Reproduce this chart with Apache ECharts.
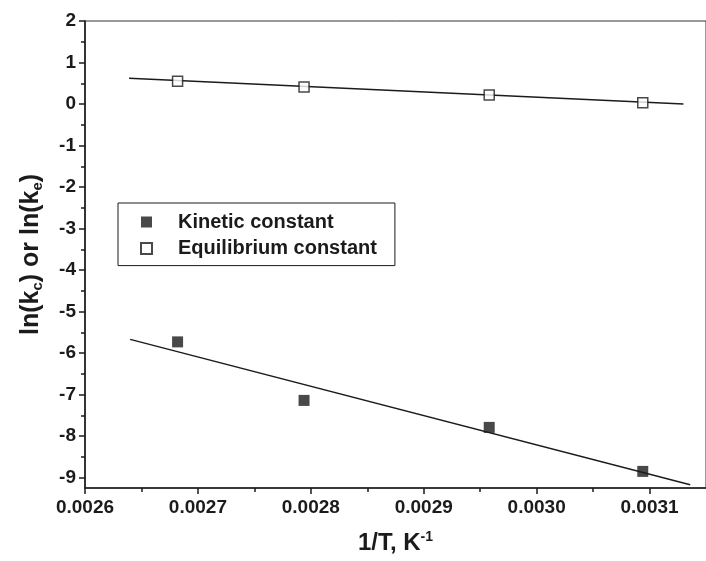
<!DOCTYPE html>
<html>
<head>
<meta charset="utf-8">
<title>ln(k) vs 1/T</title>
<script src="https://cdn.jsdelivr.net/npm/echarts@6/dist/echarts.min.js"></script>
<style>
  html, body { margin: 0; padding: 0; background: #ffffff; }
  #chart { width: 706px; height: 561px; }
</style>
</head>
<body>
<div id="chart"></div>
<script>
// Reciprocal temperature of each run, 1/T in K^-1
const invT = [0.002682, 0.002794, 0.002958, 0.003094];
// ln of the kinetic constant at each temperature
const lnKinetic = [-5.73, -7.14, -7.79, -8.85];
// ln of the equilibrium constant at each temperature
const lnEquilibrium = [0.55, 0.41, 0.22, 0.03];

// End points of the straight-line (Arrhenius / van 't Hoff) fits
const kineticFitX = [0.00264, 0.003136];
const kineticFitY = [-5.67, -9.17];
const equilibriumFitX = [0.002639, 0.00313];
const equilibriumFitY = [0.62, 0.0];

// Axis ticks
const xTicks = [0.0026, 0.0027, 0.0028, 0.0029, 0.0030, 0.0031];
const xMinorTicks = [0.00265, 0.00275, 0.00285, 0.00295, 0.00305];
const yTicks = [2, 1, 0, -1, -2, -3, -4, -5, -6, -7, -8, -9];
const yMinorTicks = [1.5, 0.5, -0.5, -1.5, -2.5, -3.5, -4.5, -5.5, -6.5, -7.5, -8.5];

const seriesNames = ['Kinetic constant', 'Equilibrium constant'];

const ink = '#1b1b1b';
const fontFamily = '"Liberation Sans", Arial, sans-serif';
const X_MIN = 0.0026, X_MAX = 0.00315, Y_MIN = -9.25, Y_MAX = 2;

const pairs = (xs, ys) => xs.map((x, i) => [x, ys[i]]);
const squareIcon = 'path://M0,0 L10,0 L10,10 L0,10 Z';

const chart = echarts.init(document.getElementById('chart'), null, { renderer: 'canvas' });

chart.setOption({
  backgroundColor: '#ffffff',
  animation: false,
  grid: {
    left: 85, top: 21, right: -7, bottom: 73,
    show: true, borderColor: '#333', borderWidth: 1, backgroundColor: 'transparent'
  },
  legend: {
    left: 118, top: 203,
    orient: 'vertical',
    data: seriesNames.map(n => ({ name: n, icon: squareIcon })),
    itemWidth: 53, itemHeight: 11, itemGap: 6.6,
    symbolKeepAspect: true,
    padding: [9, 18, 7, 22],
    borderColor: ink, borderWidth: 1,
    selectedMode: false,
    textStyle: { fontFamily, fontSize: 20, fontWeight: 'bold', color: ink, lineHeight: 20 }
  },
  xAxis: [
    {
      type: 'value', min: X_MIN, max: X_MAX,
      name: '1/T, K{sup|-1}',
      nameLocation: 'middle', nameGap: 42,
      nameTextStyle: {
        fontFamily, fontSize: 24, fontWeight: 'bold', color: ink,
        rich: { sup: { fontFamily, fontSize: 14, fontWeight: 'bold', color: ink, padding: [0, 0, 13, 0] } }
      },
      axisLine: { show: true, onZero: false, lineStyle: { color: ink, width: 1.6 } },
      axisTick: { show: true, customValues: xTicks, length: 6, lineStyle: { color: ink, width: 1.5 } },
      axisLabel: {
        show: true, customValues: xTicks, margin: 10,
        formatter: v => Number(v).toFixed(4),
        fontFamily, fontSize: 19, fontWeight: 'bold', color: ink
      },
      splitLine: { show: false }
    },
    {
      type: 'value', min: X_MIN, max: X_MAX, position: 'bottom',
      axisLine: { show: false, onZero: false },
      axisTick: { show: true, customValues: xMinorTicks, length: 4, lineStyle: { color: ink, width: 1.5 } },
      axisLabel: { show: false },
      splitLine: { show: false }
    }
  ],
  yAxis: [
    {
      type: 'value', min: Y_MIN, max: Y_MAX,
      name: 'ln(k{sub|c}) or ln(k{sub|e})',
      nameLocation: 'middle', nameGap: 40, nameRotate: 90,
      nameTextStyle: {
        fontFamily, fontSize: 25, fontWeight: 'bold', color: ink,
        rich: { sub: { fontFamily, fontSize: 15, fontWeight: 'bold', color: ink, padding: [12, 0, 0, 0] } }
      },
      axisLine: { show: true, onZero: false, lineStyle: { color: ink, width: 1.6 } },
      axisTick: { show: true, customValues: yTicks, length: 6, lineStyle: { color: ink, width: 1.5 } },
      axisLabel: {
        show: true, customValues: yTicks, margin: 9,
        fontFamily, fontSize: 19, fontWeight: 'bold', color: ink
      },
      splitLine: { show: false }
    },
    {
      type: 'value', min: Y_MIN, max: Y_MAX, position: 'left',
      axisLine: { show: false, onZero: false },
      axisTick: { show: true, customValues: yMinorTicks, length: 4, lineStyle: { color: ink, width: 1.5 } },
      axisLabel: { show: false },
      splitLine: { show: false }
    }
  ],
  series: [
    {
      name: 'Kinetic fit', type: 'line', data: pairs(kineticFitX, kineticFitY),
      symbol: 'none', lineStyle: { color: ink, width: 1.5 }, silent: true, z: 1
    },
    {
      name: 'Equilibrium fit', type: 'line', data: pairs(equilibriumFitX, equilibriumFitY),
      symbol: 'none', lineStyle: { color: ink, width: 1.5 }, silent: true, z: 1
    },
    {
      name: seriesNames[0], type: 'scatter', data: pairs(invT, lnKinetic),
      symbol: 'rect', symbolSize: 11,
      itemStyle: { color: ink, borderColor: ink, borderWidth: 0 }, z: 3
    },
    {
      name: seriesNames[1], type: 'scatter', data: pairs(invT, lnEquilibrium),
      symbol: 'rect', symbolSize: 10,
      itemStyle: { color: '#ffffff', borderColor: ink, borderWidth: 1.5 }, z: 3
    }
  ]
});
</script>
</body>
</html>
